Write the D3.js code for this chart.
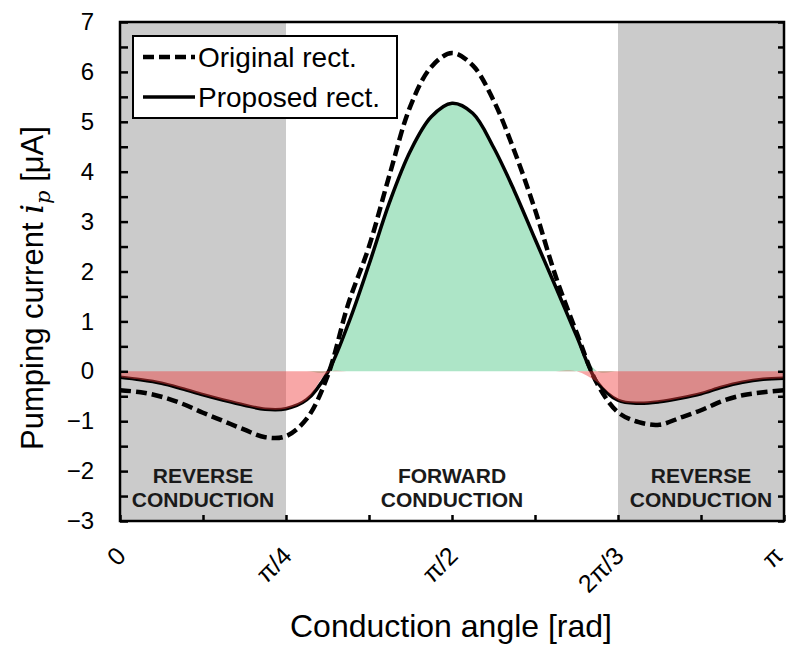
<!DOCTYPE html>
<html>
<head>
<meta charset="utf-8">
<script src="https://cdn.jsdelivr.net/npm/d3@7"></script>
<style>
  html, body { margin: 0; padding: 0; background: #fff; }
  svg { display: block; font-family: "Liberation Sans", Arial, sans-serif; }
</style>
</head>
<body>
<svg id="chart" width="787" height="646"></svg>
<script>
// ---- data ----
// conduction angle samples, in units of pi/32 (0..32)
const angleSteps = d3.range(0, 33);
// Original rectifier pumping current [uA]
const originalRect = [-0.38, -0.42, -0.51, -0.65, -0.83, -1.00, -1.17, -1.32, -1.30, -0.95,
  -0.10, 1.35, 2.50, 3.95, 5.32, 6.10, 6.38, 6.13, 5.43, 4.42, 3.24, 1.90, 0.78, -0.25,
  -0.82, -1.02, -1.07, -0.93, -0.78, -0.60, -0.48, -0.42, -0.38];
// Proposed rectifier pumping current [uA]
const proposedRect = [-0.12, -0.17, -0.24, -0.35, -0.47, -0.58, -0.68, -0.76, -0.75, -0.57,
  -0.03, 0.95, 2.14, 3.40, 4.42, 5.10, 5.37, 5.17, 4.49, 3.62, 2.65, 1.69, 0.71, -0.22,
  -0.58, -0.64, -0.61, -0.54, -0.45, -0.32, -0.22, -0.16, -0.14];
const xTickSteps = d3.range(0, 9);               // minor ticks every pi/8
const xLabelSteps = [0, 2, 4, 6, 8];             // labelled ticks (units of pi/8)
const xTickLabels = ["0", "π/4", "π/2", "2π/3", "π"];
const yTicks = d3.range(-3, 7.01, 0.5);
const regions = [
  { from: 0, to: 2, label: ["REVERSE", "CONDUCTION"], shade: true },
  { from: 2, to: 6, label: ["FORWARD", "CONDUCTION"], shade: false },
  { from: 6, to: 8, label: ["REVERSE", "CONDUCTION"], shade: true }
];
const seriesNames = ["Original rect.", "Proposed rect."];

// ---- layout ----
const svg = d3.select("#chart");
const L = 120, R = 784, T = 22, B = 521;
const x = d3.scaleLinear().domain([0, Math.PI]).range([L, R]);
const y = d3.scaleLinear().domain([-3, 7]).range([B, T]);
const pts = (arr) => arr.map((v, i) => ({ a: angleSteps[i] * Math.PI / 32, v }));
const orig = pts(originalRect), prop = pts(proposedRect);
const step8 = Math.PI / 8;

// shaded reverse conduction regions
svg.append("g").selectAll("rect").data(regions.filter(r => r.shade)).join("rect")
  .attr("x", d => x(d.from * step8)).attr("y", T)
  .attr("width", d => x(d.to * step8) - x(d.from * step8)).attr("height", B - T)
  .attr("fill", "#cbcbcb");

// green forward area
const curve = d3.curveCatmullRom.alpha(0.5);
svg.append("path").datum(prop)
  .attr("d", d3.area().curve(curve).x(d => x(d.a)).y0(y(0)).y1(d => y(Math.max(d.v, 0))))
  .attr("fill", "#ade5c7");

// region labels
regions.forEach(r => {
  const cx = (x(r.from * step8) + x(r.to * step8)) / 2;
  const t = svg.append("text").attr("text-anchor", "middle")
    .attr("font-size", 21).attr("font-weight", "bold").attr("fill", "#1a1a1a");
  t.append("tspan").attr("x", cx).attr("y", 483).text(r.label[0]);
  t.append("tspan").attr("x", cx).attr("y", 507).text(r.label[1]);
});

// lines
const line = d3.line().curve(curve).x(d => x(d.a)).y(d => y(d.v));
svg.append("path").datum(orig).attr("d", line).attr("fill", "none")
  .attr("stroke", "#000").attr("stroke-width", 4.5).attr("stroke-dasharray", "11,5");
svg.append("path").datum(prop).attr("d", line).attr("fill", "none")
  .attr("stroke", "#000").attr("stroke-width", 3.5);

// red reverse area (over the line)
svg.append("path").datum(prop)
  .attr("d", d3.area().curve(curve).x(d => x(d.a)).y0(y(0)).y1(d => y(Math.min(d.v, 0))))
  .attr("fill", "rgba(240,60,60,0.45)");

// frame
svg.append("rect").attr("x", L).attr("y", T).attr("width", R - L).attr("height", B - T)
  .attr("fill", "none").attr("stroke", "#000").attr("stroke-width", 2.5);

// y axis (ticks inward) left
const yAxis = d3.axisLeft(y).tickValues(yTicks).tickSizeInner(-8).tickSizeOuter(0)
  .tickPadding(26).tickFormat(d => Number.isInteger(d) ? d3.format("d")(d) : "");
const gy = svg.append("g").attr("transform", `translate(${L},0)`).call(yAxis);
gy.select(".domain").remove();
gy.selectAll("line").attr("stroke", "#000").attr("stroke-width", 2.5);
gy.selectAll("text").attr("font-size", 24).attr("fill", "#000")
  .attr("font-family", "'Liberation Sans', Arial, sans-serif");

// right axis ticks
const yAxisR = d3.axisRight(y).tickValues(yTicks).tickSizeInner(-6).tickSizeOuter(0).tickFormat("");
const gyr = svg.append("g").attr("transform", `translate(${R},0)`).call(yAxisR);
gyr.select(".domain").remove();
gyr.selectAll("line").attr("stroke", "#000").attr("stroke-width", 2.5);

// x axis ticks (inward)
const xAxis = d3.axisBottom(x).tickValues(xTickSteps.map(k => k * step8))
  .tickSizeInner(-6).tickSizeOuter(0).tickFormat("");
const gx = svg.append("g").attr("transform", `translate(0,${B})`).call(xAxis);
gx.select(".domain").remove();
gx.selectAll("line").attr("stroke", "#000").attr("stroke-width", 2.5);

// x tick labels rotated (last one nudged to stay inside the picture)
svg.append("g").selectAll("text").data(xLabelSteps).join("text")
  .attr("transform", (d, i) => `translate(${x(d * step8) + (i === xLabelSteps.length - 1 ? -6 : 1)},551) rotate(-45)`)
  .attr("text-anchor", "end").attr("dominant-baseline", "central")
  .attr("font-size", 25).attr("fill", "#000")
  .text((d, i) => xTickLabels[i]);

// axis titles
svg.append("text").attr("x", 451).attr("y", 637).attr("text-anchor", "middle")
  .attr("font-size", 32).attr("fill", "#000").text("Conduction angle [rad]");
const yt = svg.append("text").attr("transform", "translate(43,288) rotate(-90)")
  .attr("text-anchor", "middle").attr("font-size", 31).attr("fill", "#000");
yt.append("tspan").text("Pumping current ");
yt.append("tspan").attr("font-family", "'DejaVu Serif', 'Liberation Serif', serif")
  .attr("font-style", "italic").text("i");
yt.append("tspan").attr("font-family", "'DejaVu Serif', 'Liberation Serif', serif")
  .attr("font-style", "italic").attr("font-size", 21).attr("dy", 7).text("p");
yt.append("tspan").attr("dy", -7).text(" [μA]");

// legend
const lg = svg.append("g");
lg.append("rect").attr("x", 133).attr("y", 36).attr("width", 264).attr("height", 82)
  .attr("fill", "#fff").attr("stroke", "#000").attr("stroke-width", 2);
const legendRows = [
  { name: seriesNames[0], dash: "11,5", w: 4.5, yy: 57 },
  { name: seriesNames[1], dash: null, w: 3.5, yy: 97 }
];
legendRows.forEach(r => {
  lg.append("line").attr("x1", 143).attr("x2", 195).attr("y1", r.yy).attr("y2", r.yy)
    .attr("stroke", "#000").attr("stroke-width", r.w).attr("stroke-dasharray", r.dash);
  lg.append("text").attr("x", 198).attr("y", r.yy + 10).attr("font-size", 28)
    .attr("fill", "#000").text(r.name);
});
</script>
</body>
</html>
